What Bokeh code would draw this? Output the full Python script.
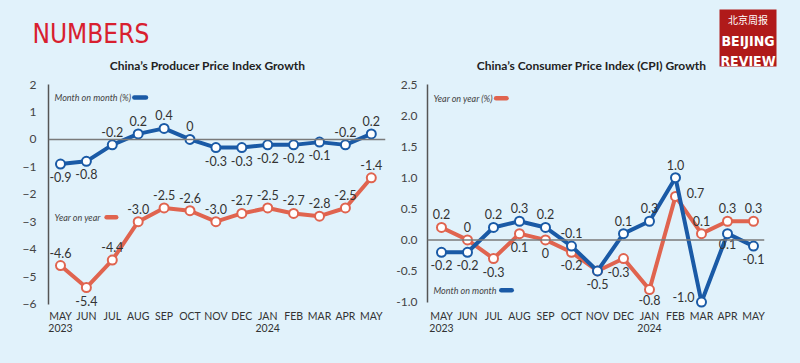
from bokeh.plotting import figure
from bokeh.models import (ColumnDataSource, Label, Span, BoxAnnotation, FixedTicker,
                          NumeralTickFormatter, Range1d)
from bokeh.layouts import row, column
from bokeh.embed import file_html
from bokeh.resources import INLINE
from bokeh.core.properties import value

# ---------------- data ----------------
months = ["MAY\n2023", "JUN", "JUL", "AUG", "SEP", "OCT", "NOV", "DEC",
          "JAN\n2024", "FEB", "MAR", "APR", "MAY"]
ppi_mom = [-0.9, -0.8, -0.2, 0.2, 0.4, 0.0, -0.3, -0.3, -0.2, -0.2, -0.1, -0.2, 0.2]
ppi_yoy = [-4.6, -5.4, -4.4, -3.0, -2.5, -2.6, -3.0, -2.7, -2.5, -2.7, -2.8, -2.5, -1.4]
cpi_yoy = [0.2, 0.0, -0.3, 0.1, 0.0, -0.2, -0.5, -0.3, -0.8, 0.7, 0.1, 0.3, 0.3]
cpi_mom = [-0.2, -0.2, 0.2, 0.3, 0.2, -0.1, -0.5, 0.1, 0.3, 1.0, -1.0, 0.1, -0.1]
ppi_ticks = [-6, -5, -4, -3, -2, -1, 0, 1, 2]
cpi_ticks = [-1.0, -0.5, 0.0, 0.5, 1.0, 1.5, 2.0, 2.5]

BG = "#e1f2fb"
BLUE = "#1a5aa6"
RED = "#e0644f"
TXT = "#333333"
FONT = "Lato"
NARROW = "DejaVu Sans Condensed, Roboto, sans-serif"


def fmt(v):
    return "0" if v == 0 else f"{v:.1f}"


def base_fig(width, xr, yr, bounds, bl, br, bt, bb):
    p = figure(width=width, height=291, x_range=xr, y_range=yr,
               output_backend="svg", toolbar_location=None,
               min_border_left=bl, min_border_right=br,
               min_border_top=bt, min_border_bottom=bb)
    p.background_fill_color = BG
    p.border_fill_color = BG
    p.outline_line_color = None
    p.xgrid.visible = False
    p.ygrid.visible = False
    p.xaxis.ticker = FixedTicker(ticks=list(range(len(months))))
    p.xaxis.major_label_overrides = {i: m for i, m in enumerate(months)}
    p.xaxis.axis_line_color = None
    p.xaxis.major_tick_line_color = None
    p.xaxis.minor_tick_line_color = None
    p.xaxis.major_label_standoff = -6
    p.xaxis.major_label_text_font = FONT
    p.xaxis.major_label_text_font_size = "10.5px"
    p.xaxis.major_label_text_color = TXT
    p.xaxis.major_label_text_line_height = 1.0
    p.yaxis.bounds = bounds
    p.yaxis.axis_line_color = "#555555"
    p.yaxis.axis_line_width = 1.5
    p.yaxis.major_tick_line_color = None
    p.yaxis.minor_tick_line_color = None
    p.yaxis.major_label_text_font = FONT
    p.yaxis.major_label_text_font_size = "12px"
    p.yaxis.major_label_text_color = "#444444"
    p.add_layout(Span(location=0, dimension="width", line_color="#7a7a7a", line_width=1.5))
    return p


def series(p, vals, color, labels, dxs, dys):
    x = list(range(len(vals)))
    src = ColumnDataSource(dict(x=x, y=vals, t=labels, dx=dxs, dy=dys))
    p.line("x", "y", source=src, line_color=color, line_width=4, line_join="round")
    p.scatter("x", "y", source=src, size=9, fill_color="white", line_color=color, line_width=2)
    p.text("x", "y", text="t", source=src, x_offset="dx", y_offset="dy",
           text_align="center", text_baseline="middle", text_font=value(FONT),
           text_font_size="12.5px", text_color=TXT)


def legend(p, tx, ty, text, x0, x1, color):
    p.add_layout(Label(x=tx, y=ty, text=text, text_font=FONT, text_font_style="italic",
                       text_font_size="9px", text_color="#444444",
                       text_align="left", text_baseline="middle"))
    p.segment(x0=[x0], y0=[ty], x1=[x1], y1=[ty], line_color=color, line_width=4.5,
              line_cap="round")


# ---------------- header ----------------
head = figure(width=800, height=72, x_range=Range1d(0, 800), y_range=Range1d(72, 0),
              output_backend="svg", toolbar_location=None,
              x_axis_type=None, y_axis_type=None,
              min_border_left=0, min_border_right=0, min_border_top=0, min_border_bottom=0)
head.background_fill_color = BG
head.border_fill_color = BG
head.outline_line_color = None
head.xgrid.visible = False
head.ygrid.visible = False
head.add_layout(Label(x=32, y=33, text="NUMBERS", text_font=NARROW,
                      text_font_size="26px", text_color="#d8202f",
                      text_align="left", text_baseline="alphabetic"))
head.add_layout(Label(x=207, y=65, text="China\u2019s Producer Price Index Growth",
                      text_font=FONT, text_font_style="bold", text_font_size="12px",
                      text_color="#222222", text_align="center", text_baseline="middle"))
head.add_layout(Label(x=591, y=65, text="China\u2019s Consumer Price Index (CPI) Growth",
                      text_font=FONT, text_font_style="bold", text_font_size="12px",
                      text_color="#222222", text_align="center", text_baseline="middle"))
head.add_layout(BoxAnnotation(left=719, right=776, top=9, bottom=66,
                              fill_color="#b01a1a", fill_alpha=1.0, line_color=None))
head.add_layout(Label(x=747.5, y=19, text="北京周报", text_font="Noto Sans CJK SC",
                      text_font_size="10px", text_color="white",
                      text_align="center", text_baseline="middle"))
head.add_layout(Label(x=747.5, y=40, text="BEIJING", text_font=NARROW,
                      text_font_style="bold", text_font_size="14px", text_color="white",
                      text_align="center", text_baseline="alphabetic"))
head.add_layout(Label(x=747.5, y=60, text="REVIEW", text_font=NARROW,
                      text_font_style="bold", text_font_size="14px", text_color="white",
                      text_align="center", text_baseline="alphabetic"))

# ---------------- left: PPI ----------------
left = base_fig(390, Range1d(-0.463, 12.548), Range1d(-6.2, 2), (-6, 2), 48, 5, 12, 54)
left.yaxis.ticker = FixedTicker(ticks=ppi_ticks)
left.yaxis.major_label_standoff = 6

mom_pos = [1, 1, -1, -1, -1, -1, 1, 1, 1, 1, 1, -1, -1]
series(left, ppi_mom, BLUE, [fmt(v) for v in ppi_mom],
       [0] * 13, [13 * s for s in mom_pos])
yoy_pos = [-1, 1, -1, -1, -1, -1, -1, -1, -1, -1, -1, -1, -1]
series(left, ppi_yoy, RED, [f"{v:.1f}" for v in ppi_yoy],
       [0] * 13, [13 * s for s in yoy_pos])

legend(left, -0.23, 1.53, "Month on month (%)", 2.85, 3.3, BLUE)
legend(left, -0.23, -2.84, "Year on year", 1.78, 2.15, RED)

# ---------------- right: CPI ----------------
right = base_fig(410, Range1d(-0.538, 12.423), Range1d(-1.12, 2.5), (-1.0, 2.5), 37, 36, 10, 54)
right.yaxis.ticker = FixedTicker(ticks=cpi_ticks)
right.yaxis.formatter = NumeralTickFormatter(format="0.0")
right.yaxis.major_label_standoff = 4

r_lab = [fmt(v) for v in cpi_yoy]
r_lab[6] = ""
r_pos = [-1, -1, 1, 1, 1, 1, 1, 1, 1, 0, -1, -1, -1]
r_dx = [0] * 13
r_dy = [13 * s for s in r_pos]
r_dx[9], r_dy[9] = 20, -3
r_dx[7] = -5
r_dy[8] = 10
series(right, cpi_yoy, RED, r_lab, r_dx, r_dy)

b_lab = [fmt(v) for v in cpi_mom]
b_pos = [1, 1, -1, -1, -1, -1, 1, -1, -1, -1, 0, 1, 1]
b_dx = [0] * 13
b_dy = [13 * s for s in b_pos]
b_dx[10], b_dy[10] = -18, -5
b_dy[11] = 10
series(right, cpi_mom, BLUE, b_lab, b_dx, b_dy)

legend(right, -0.31, 2.28, "Year on year (%)", 2.1, 2.5, RED)
legend(right, -0.31, -0.81, "Month on month", 2.3, 2.7, BLUE)

layout = column(head, row(left, right, spacing=0), spacing=0)
html = file_html(layout, INLINE)
html = html.replace("</head>",
                    "<style>html,body{background:#e1f2fb !important;margin:0;}</style></head>", 1)
open("out.html", "w").write(html)
